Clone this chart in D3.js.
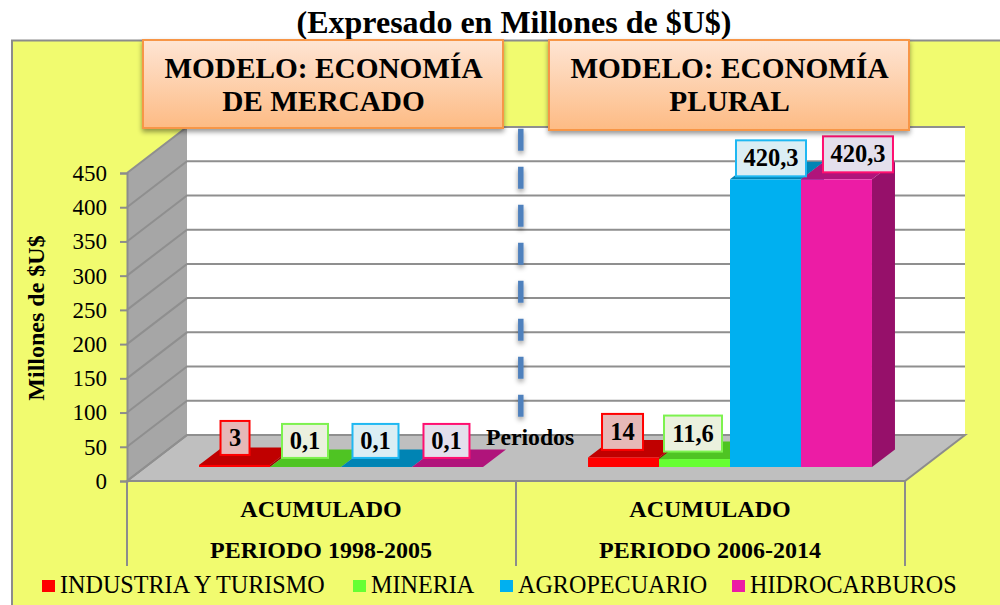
<!DOCTYPE html>
<html>

<head>
  <meta charset="utf-8">
  <title>Modelo economía</title>
  <script src="https://d3js.org/d3.v7.min.js"></script>
  <style>
    html, body {
      margin: 0;
      padding: 0;
      background: white;
      overflow: hidden;
    }

    text {
      font-family: "Liberation Serif", serif;
      fill: #000;
    }
  </style>
</head>

<body>
  <script>
    const periods = ["PERIODO 1998-2005", "PERIODO 2006-2014"];
    const seriesNames = ["INDUSTRIA Y TURISMO", "MINERIA", "AGROPECUARIO", "HIDROCARBUROS"];
    const values1998 = [3, 0.1, 0.1, 0.1];
    const values2006 = [14, 11.6, 420.3, 420.3];
    const yTicks = [0, 50, 100, 150, 200, 250, 300, 350, 400, 450];
    const modelNames = [["MODELO: ECONOMÍA", "DE MERCADO"], ["MODELO: ECONOMÍA", "PLURAL"]];

    const width = 1000, height = 605;
    const front = { left: 127, right: 905, bottom: 481, top: 173 };
    const back = { dx: 60, dy: -46 };
    const barOffset = { dx: 19.5, dy: -14 };
    const barDepth = { dx: 23, dy: -17.5 };

    // front face, top, side, label box border and fill
    const faces = [
      { front: "#ff0000", top: "#c00000", side: "#a00000", border: "#ff0000", box: "#e6b8b7" },
      { front: "#66ff33", top: "#4fc423", side: "#3f9c1c", border: "#7df24f", box: "#ebf1de" },
      { front: "#00b0f0", top: "#0084b4", side: "#006e96", border: "#1fb8f2", box: "#dbeef4" },
      { front: "#ec1ca5", top: "#b0147b", side: "#96106a", border: "#ff0f70", box: "#e4dfec" }
    ];

    // hand placed label centres, relative to the middle of each bar front
    const labelShift = [
      [{ x: 0.5, y: -27 }, { x: -0.5, y: -26 }, { x: -1, y: -26 }, { x: -1, y: -26 }],
      [{ x: -1, y: -25.5 }, { x: -1.5, y: -25.5 }, { x: 5.5, y: -21 }, { x: 21.5, y: -25 }]
    ];

    const svg = d3.select("body").append("svg")
      .attr("width", width)
      .attr("height", height)
      .style("display", "block");

    const defs = svg.append("defs");

    const boxGrad = defs.append("linearGradient")
      .attr("id", "boxGrad")
      .attr("x1", 0).attr("y1", 0).attr("x2", 0).attr("y2", 1);
    boxGrad.append("stop").attr("offset", 0).attr("stop-color", "#fee5d4");
    boxGrad.append("stop").attr("offset", 1).attr("stop-color", "#fdbb84");

    const shadow = defs.append("filter")
      .attr("id", "shadow")
      .attr("filterUnits", "userSpaceOnUse")
      .attr("x", 0).attr("y", 0)
      .attr("width", width).attr("height", height);
    shadow.append("feDropShadow")
      .attr("dx", 0).attr("dy", 3)
      .attr("stdDeviation", 2.5)
      .attr("flood-color", "#000")
      .attr("flood-opacity", 0.4);

    const y = d3.scaleLinear()
      .domain([0, 450])
      .range([front.bottom, front.top]);

    const xGroup = d3.scaleBand()
      .domain(periods)
      .range([front.left, front.right]);

    const xBar = d3.scaleBand()
      .domain(seriesNames)
      .range([0, xGroup.bandwidth()])
      .paddingOuter(0.74)
      .paddingInner(0);

    const line = d3.line();

    // background
    svg.append("rect")
      .attr("x", 12).attr("y", 40.5)
      .attr("width", width).attr("height", height)
      .attr("fill", "#f1fb6f")
      .attr("stroke", "#8c8c8c")
      .attr("stroke-width", 2);

    // title
    svg.append("text")
      .attr("x", 514).attr("y", 33)
      .attr("text-anchor", "middle")
      .attr("font-size", 32)
      .attr("font-weight", "bold")
      .text("(Expresado en Millones de $U$)");

    // back wall, left wall, floor
    const plot = svg.append("g");
    plot.append("rect")
      .attr("x", front.left + back.dx).attr("y", front.top + back.dy)
      .attr("width", front.right - front.left)
      .attr("height", front.bottom - front.top)
      .attr("fill", "white");
    plot.append("path")
      .attr("d", line([
        [front.left, front.top],
        [front.left + back.dx, front.top + back.dy],
        [front.left + back.dx, front.bottom + back.dy],
        [front.left, front.bottom]
      ]) + "Z")
      .attr("fill", "#a6a6a6");
    plot.append("path")
      .attr("d", line([
        [front.left, front.bottom],
        [front.left + back.dx, front.bottom + back.dy],
        [front.right + back.dx, front.bottom + back.dy],
        [front.right, front.bottom]
      ]) + "Z")
      .attr("fill", "#bfbfbf")
      .attr("stroke", "#8c8c8c")
      .attr("stroke-width", 2);

    // gridlines, running along the left wall then the back wall
    plot.selectAll("path.grid")
      .data(yTicks)
      .join("path")
      .attr("class", "grid")
      .attr("fill", "none")
      .attr("stroke", "#8f8f8f")
      .attr("stroke-width", 2)
      .attr("d", d => line([
        [front.left, y(d)],
        [front.left + back.dx, y(d) + back.dy],
        [front.right + back.dx, y(d) + back.dy]
      ]));

    // y axis
    const yAxisG = svg.append("g")
      .attr("transform", `translate(${front.left}, 0)`)
      .call(d3.axisLeft(y).tickValues(yTicks).tickSize(7).tickPadding(13).tickFormat(d3.format("d")));
    yAxisG.select(".domain")
      .attr("stroke", "#8c8c8c").attr("stroke-width", 2);
    yAxisG.selectAll(".tick line")
      .attr("stroke", "#8c8c8c").attr("stroke-width", 2);
    yAxisG.selectAll(".tick text")
      .attr("font-size", 23)
      .style("font-family", '"Liberation Serif", serif')
      .attr("fill", "#000");

    svg.append("text")
      .attr("transform", "translate(44, 318) rotate(-90)")
      .attr("text-anchor", "middle")
      .attr("font-size", 24)
      .attr("font-weight", "bold")
      .text("Millones de $U$");

    // x axis separators and labels
    svg.selectAll("line.sep")
      .data([front.left, front.left + xGroup.bandwidth(), front.right])
      .join("line")
      .attr("class", "sep")
      .attr("x1", d => d).attr("x2", d => d)
      .attr("y1", front.bottom).attr("y2", 566)
      .attr("stroke", "#8c8c8c")
      .attr("stroke-width", 2);

    periods.forEach(p => {
      const cx = xGroup(p) + xGroup.bandwidth() / 2;
      svg.append("text")
        .attr("x", cx - 0.5).attr("y", 517)
        .attr("text-anchor", "middle")
        .attr("font-size", 24)
        .attr("font-weight", "bold")
        .text("ACUMULADO");
      svg.append("text")
        .attr("x", cx - 0.5).attr("y", 558)
        .attr("text-anchor", "middle")
        .attr("font-size", 24)
        .attr("font-weight", "bold")
        .text(p);
    });

    // bars
    const barH = v => y(0) - y(v);
    const groups = [values1998, values2006];
    const barsG = svg.append("g");
    const labelsG = svg.append("g");

    groups.forEach((vals, g) => {
      vals.forEach((v, i) => {
        const name = seriesNames[i];
        const x0 = xGroup(periods[g]) + xBar(name) + barOffset.dx;
        const x1 = x0 + xBar.bandwidth();
        const yb = y(0) + barOffset.dy;
        const yt = yb - barH(v);
        const bar = barsG.append("g");
        bar.append("path")
          .attr("fill", faces[i].side)
          .attr("d", line([
            [x1, yb], [x1 + barDepth.dx, yb + barDepth.dy],
            [x1 + barDepth.dx, yt + barDepth.dy], [x1, yt]
          ]) + "Z");
        bar.append("path")
          .attr("fill", faces[i].top)
          .attr("d", line([
            [x0, yt], [x1, yt],
            [x1 + barDepth.dx, yt + barDepth.dy], [x0 + barDepth.dx, yt + barDepth.dy]
          ]) + "Z");
        bar.append("rect")
          .attr("x", x0).attr("y", yt)
          .attr("width", x1 - x0).attr("height", yb - yt)
          .attr("fill", faces[i].front);

        // data label box
        const label = String(v).replace(".", ",");
        const shift = labelShift[g][i];
        const cx = (x0 + x1) / 2 + shift.x;
        const cy = yt + shift.y;
        const w = label.length === 1 ? 29 : label.length === 2 ? 41 : label.length === 3 ? 46 : label.length === 4 ? 58 : 70;
        const h = g === 0 ? 34 : 36;
        const lg = labelsG.append("g");
        lg.append("rect")
          .attr("x", cx - w / 2).attr("y", cy - h / 2)
          .attr("width", w).attr("height", h)
          .attr("fill", faces[i].box)
          .attr("stroke", faces[i].border)
          .attr("stroke-width", 2);
        lg.append("text")
          .attr("x", cx).attr("y", cy + 8)
          .attr("text-anchor", "middle")
          .attr("font-size", 24.5)
          .attr("font-weight", "bold")
          .text(label);
      });
    });

    // dashed divider between the two models
    svg.append("line")
      .attr("x1", 520.8).attr("x2", 520.8)
      .attr("y1", 128.7).attr("y2", 418)
      .attr("stroke", "#4f81bd")
      .attr("stroke-width", 5.5)
      .attr("stroke-dasharray", "22 16")
      .attr("filter", "url(#shadow)");

    svg.append("text")
      .attr("x", 486).attr("y", 445)
      .attr("font-size", 23.7)
      .attr("font-weight", "bold")
      .text("Periodos");

    // model boxes
    const boxes = [
      { x: 143, y: 40, w: 360, h: 88 },
      { x: 549, y: 40, w: 360, h: 90 }
    ];
    boxes.forEach((b, i) => {
      svg.append("rect")
        .attr("x", b.x).attr("y", b.y)
        .attr("width", b.w).attr("height", b.h)
        .attr("fill", "url(#boxGrad)")
        .attr("stroke", "#f79646")
        .attr("stroke-width", 2)
        .attr("filter", "url(#shadow)");
      modelNames[i].forEach((t, j) => {
        svg.append("text")
          .attr("x", b.x + b.w / 2 + 0.5).attr("y", 77.5 + j * 33.5)
          .attr("text-anchor", "middle")
          .attr("font-size", 29.3)
          .attr("font-weight", "bold")
          .text(t);
      });
    });

    // legend
    const legendX = [42, 353, 500, 732];
    const legendTextX = [60, 371, 518, 750];
    seriesNames.forEach((name, i) => {
      svg.append("rect")
        .attr("x", legendX[i]).attr("y", 580)
        .attr("width", 13).attr("height", 12)
        .attr("fill", faces[i].front);
      svg.append("text")
        .attr("x", legendTextX[i]).attr("y", 592.5)
        .attr("font-size", 24.15)
        .text(name);
    });
  </script>
</body>

</html>
